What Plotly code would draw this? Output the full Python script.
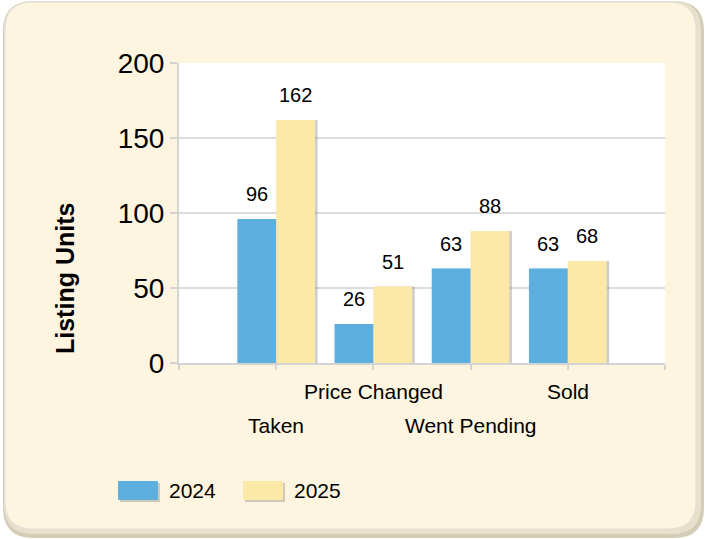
import plotly.graph_objects as go

# ---- data ----
categories = ["Taken", "Price Changed", "Went Pending", "Sold"]
series_names = ["2024", "2025"]
values_2024 = [96, 26, 63, 63]
values_2025 = [162, 51, 88, 68]
y_ticks = [0, 50, 100, 150, 200]
y_title = "Listing Units"

# ---- style ----
W, H = 705, 539
ML, MR, MT, MB = 179, 40, 63, 176
PW, PH = W - ML - MR, H - MT - MB
BLUE = "#5DAFE0"
YELLOW = "#FCE8A7"
CREAM = "#FDF5DF"
GRID = "#dcdcdc"
AXIS = "#d4d4d4"
FONT = "Tahoma, 'Liberation Sans', Arial, sans-serif"


def fx(x):
    return (x - ML) / PW


def fy(y):
    return (H - MB - y) / PH


def rrect(x0, y0, x1, y1, r):
    p = lambda x, y: f"{fx(x):.5f},{fy(y):.5f}"
    return (f"M{p(x0 + r, y0)} L{p(x1 - r, y0)} Q{p(x1, y0)} {p(x1, y0 + r)} "
            f"L{p(x1, y1 - r)} Q{p(x1, y1)} {p(x1 - r, y1)} L{p(x0 + r, y1)} "
            f"Q{p(x0, y1)} {p(x0, y1 - r)} L{p(x0, y0 + r)} Q{p(x0, y0)} {p(x0 + r, y0)} Z")


xs = list(range(len(categories)))
series = [values_2024, values_2025]
colors = [BLUE, YELLOW]
offsets = [-0.4, 0.0]
bw = 0.4

fig = go.Figure()

# soft shadows behind bars
for vals, off in zip(series, offsets):
    fig.add_bar(x=xs, y=vals, width=bw, offset=off + 0.025,
                marker=dict(color="rgba(110,110,110,0.35)", line=dict(width=0)),
                hoverinfo="skip", showlegend=False)

for vals, off, col, name in zip(series, offsets, colors, series_names):
    fig.add_bar(x=xs, y=vals, width=bw, offset=off, name=name,
                marker=dict(color=col, line=dict(width=0)), showlegend=False)

annotations = []
# value labels
for vals, off in zip(series, offsets):
    for x, v in zip(xs, vals):
        annotations.append(dict(x=x + off + bw / 2, y=v, xref="x", yref="y",
                                text=str(v), showarrow=False, yanchor="bottom",
                                xanchor="center", yshift=12,
                                font=dict(family="'Liberation Sans', Arial", size=20, color="#000")))
# staggered category labels
for i, c in enumerate(categories):
    annotations.append(dict(x=i, y=0, xref="x", yref="paper", text=c,
                            showarrow=False, yanchor="middle", xanchor="center",
                            yshift=-62 if i % 2 == 0 else -28,
                            font=dict(family=FONT, size=21, color="#000")))
# y title
annotations.append(dict(x=fx(65), y=fy(279), xref="paper", yref="paper",
                        xanchor="center", yanchor="middle",
                        text=f"<b>{y_title}</b>", textangle=-90, showarrow=False,
                        font=dict(family="'Liberation Sans', Arial", size=25, color="#000")))

shapes = [
    dict(type="path", xref="paper", yref="paper", layer="below",
         path=rrect(3, 1, 704, 538, 30), fillcolor="#d3ccb7", line=dict(width=0)),
    dict(type="path", xref="paper", yref="paper", layer="below",
         path=rrect(4, 1, 701, 534, 29), fillcolor="#e7e0cb", line=dict(width=0)),
    dict(type="path", xref="paper", yref="paper", layer="below",
         path=rrect(5, 2, 696, 529, 28), fillcolor=CREAM,
         line=dict(color="#e2dfd8", width=1)),
    dict(type="rect", xref="paper", yref="paper", layer="below",
         x0=0, x1=1, y0=0, y1=1, fillcolor="white", line=dict(width=0)),
]

# custom legend
leg_x = [118, 243]
for name, col, lx in zip(series_names, colors, leg_x):
    shapes.append(dict(type="rect", xref="paper", yref="paper", layer="above",
                       x0=fx(lx + 2), x1=fx(lx + 42), y0=fy(502), y1=fy(483),
                       fillcolor="rgba(120,120,120,0.35)", line=dict(width=0)))
    shapes.append(dict(type="rect", xref="paper", yref="paper", layer="above",
                       x0=fx(lx), x1=fx(lx + 40), y0=fy(500), y1=fy(481),
                       fillcolor=col, line=dict(width=0)))
    annotations.append(dict(x=fx(lx + 49), y=fy(490), xref="paper", yref="paper",
                            text=name, showarrow=False, xanchor="left", yanchor="middle",
                            font=dict(family=FONT, size=21, color="#000")))

fig.update_layout(
    width=W, height=H,
    margin=dict(l=ML, r=MR, t=MT, b=MB, pad=0),
    paper_bgcolor="white", plot_bgcolor="rgba(0,0,0,0)",
    barmode="overlay", showlegend=False,
    shapes=shapes, annotations=annotations,
    xaxis=dict(range=[-1, len(categories)], tickvals=list(range(-1, len(categories) + 1)),
               ticktext=[""] * (len(categories) + 2), showgrid=False, zeroline=False,
               showline=True, linecolor=AXIS, linewidth=2,
               ticks="outside", ticklen=5, tickwidth=2, tickcolor=AXIS, fixedrange=True),
    yaxis=dict(range=[0, 200], tickvals=y_ticks, showgrid=True, gridcolor=GRID, gridwidth=2,
               zeroline=False, showline=True, linecolor=AXIS, linewidth=2,
               ticks="outside", ticklen=7, tickwidth=2, tickcolor=AXIS,
               tickfont=dict(family="'Liberation Sans', Arial", size=28, color="#000"),
               fixedrange=True),
)

fig.write_html("out.html")
